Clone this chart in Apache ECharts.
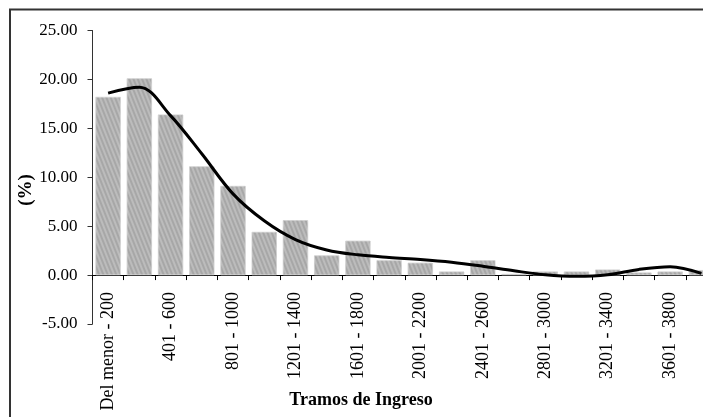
<!DOCTYPE html>
<html>
<head>
<meta charset="utf-8">
<script src="https://cdn.jsdelivr.net/npm/echarts@6/dist/echarts.min.js"></script>
<style>
html,body{margin:0;padding:0;background:#fff;}
#chart{width:703px;height:417px;}
</style>
</head>
<body>
<div id="chart"></div>
<script>
var categories = ["Del menor - 200","201 - 400","401 - 600","601 - 800","801 - 1000","1001 - 1200","1201 - 1400","1401 - 1600","1601 - 1800","1801 - 2000","2001 - 2200","2201 - 2400","2401 - 2600","2601 - 2800","2801 - 3000","3001 - 3200","3201 - 3400","3401 - 3600","3601 - 3800","3801 - 4000"];
var barValues = [18.2, 20.1, 16.4, 11.1, 9.1, 4.4, 5.6, 2.0, 3.5, 1.5, 1.25, 0.35, 1.5, 0.1, 0.35, 0.35, 0.55, 0.25, 0.35, 0.5];
var lineValues = [18.6, 19.2, 16.3, 12.4, 8.3, 5.55, 3.63, 2.57, 2.07, 1.8, 1.6, 1.32, 0.91, 0.44, 0.03, -0.13, 0.03, 0.58, 0.85, 0.17];
var yTicks = [-5, 0, 5, 10, 15, 20, 25];
var xTitle = "Tramos de Ingreso";
var yTitle = "(%)";

var FONT = "Liberation Serif";
var GRID_TOP = 30.5, GRID_BOTTOM = 93;
var plotH = 417 - GRID_TOP - GRID_BOTTOM;
var zeroOffset = -plotH * (0 - yTicks[0]) / (yTicks[yTicks.length - 1] - yTicks[0]);

var chart = echarts.init(document.getElementById('chart'), null, {renderer: 'canvas'});
chart.setOption({
  animation: false,
  backgroundColor: '#fff',
  grid: {left: 92.5, top: GRID_TOP, right: -14, bottom: GRID_BOTTOM, containLabel: false, outerBoundsMode: 'none'},
  xAxis: {
    type: 'category',
    data: categories,
    boundaryGap: true,
    position: 'bottom',
    offset: zeroOffset,
    axisLine: {onZero: false, lineStyle: {color: '#000', width: 1}},
    axisTick: {show: true, interval: 0, length: 5, lineStyle: {color: '#000'}},
    axisLabel: {interval: 1, rotate: 90, margin: 17, fontFamily: FONT, fontSize: 18, color: '#000'},
    splitLine: {show: false}
  },
  yAxis: {
    type: 'value',
    min: yTicks[0],
    max: yTicks[yTicks.length - 1],
    interval: 5,
    axisLine: {show: true, lineStyle: {color: '#333', width: 1}},
    axisTick: {show: true, length: 5, lineStyle: {color: '#333'}},
    axisLabel: {margin: 15, fontFamily: FONT, fontSize: 17, color: '#000', formatter: function (v) { return v.toFixed(2); }},
    splitLine: {show: false}
  },
  series: [
    {
      type: 'bar',
      data: barValues,
      barCategoryGap: '20%',
      itemStyle: {
        color: '#bcbcbc',
        borderColor: '#d0d0d0',
        borderWidth: 0.5,
        decal: {
          symbol: 'rect',
          symbolSize: 1,
          dashArrayX: [1, 0],
          dashArrayY: [2, 2],
          rotation: Math.PI * 0.38,
          color: 'rgba(120,120,120,0.3)'
        }
      }
    },
    {
      type: 'line',
      data: lineValues,
      smooth: 0.35,
      symbol: 'none',
      lineStyle: {color: '#000', width: 3},
      z: 5
    }
  ],
  graphic: [
    {type: 'rect', shape: {x: 10, y: 9.5, width: 800, height: 500}, style: {fill: 'none', stroke: '#333', lineWidth: 2}, silent: true},
    {type: 'text', x: 361, y: 400, style: {text: xTitle, font: 'bold 18px "Liberation Serif"', fill: '#000', align: 'center', verticalAlign: 'middle'}},
    {type: 'text', x: 26, y: 190, rotation: Math.PI / 2, style: {text: yTitle, font: 'bold 19px "Liberation Serif"', fill: '#000', align: 'center', verticalAlign: 'middle'}}
  ]
});
</script>
</body>
</html>
